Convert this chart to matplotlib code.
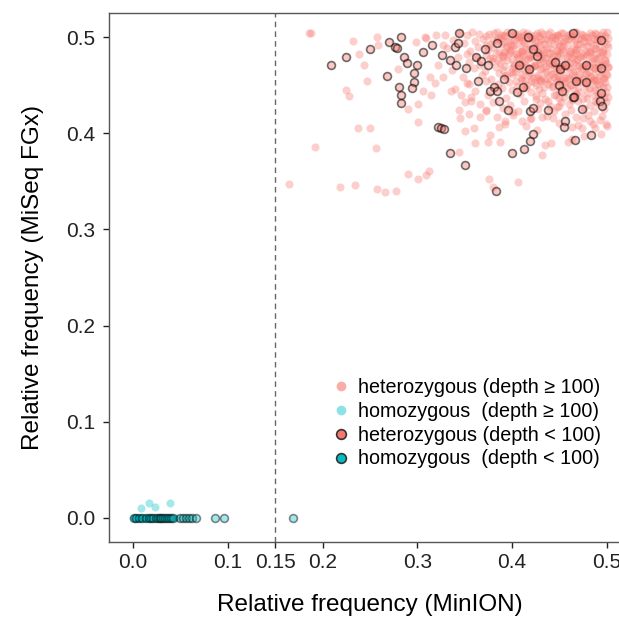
import numpy as np
import matplotlib
matplotlib.use('Agg')
import matplotlib.pyplot as plt
from matplotlib.lines import Line2D

plt.rcParams['font.family'] = ['Liberation Sans', 'DejaVu Sans']

# heterozygous, depth >= 100 (light points), scattered part
het_hi_x = [0.186, 0.188, 0.232, 0.257, 0.259, 0.238, 0.244, 0.247, 0.225, 0.228,
            0.237, 0.250, 0.192, 0.256, 0.165, 0.218, 0.234, 0.258, 0.266, 0.278,
            0.290, 0.301, 0.309, 0.312, 0.376, 0.380, 0.406, 0.432, 0.435, 0.441,
            0.459, 0.463, 0.476, 0.494, 0.488, 0.474, 0.463, 0.499, 0.493, 0.375,
            0.377, 0.387, 0.361, 0.360, 0.350, 0.344, 0.301, 0.290, 0.301, 0.306,
            0.314, 0.319, 0.313, 0.280, 0.299, 0.308, 0.320, 0.329, 0.327, 0.322,
            0.327, 0.336, 0.346, 0.344, 0.350, 0.357, 0.355, 0.345, 0.355, 0.366,
            0.373, 0.386, 0.393, 0.401, 0.411, 0.426, 0.443, 0.444, 0.450, 0.432,
            0.419, 0.482, 0.475, 0.309]
het_hi_y = [0.504, 0.504, 0.496, 0.500, 0.492, 0.483, 0.471, 0.455, 0.445, 0.439,
            0.406, 0.406, 0.386, 0.385, 0.347, 0.344, 0.346, 0.342, 0.339, 0.340,
            0.358, 0.353, 0.357, 0.361, 0.353, 0.344, 0.349, 0.377, 0.388, 0.390,
            0.391, 0.394, 0.397, 0.399, 0.406, 0.406, 0.407, 0.410, 0.414, 0.391,
            0.398, 0.391, 0.390, 0.406, 0.402, 0.381, 0.412, 0.425, 0.431, 0.444,
            0.440, 0.452, 0.459, 0.467, 0.495, 0.500, 0.502, 0.502, 0.492, 0.471,
            0.459, 0.444, 0.440, 0.424, 0.433, 0.434, 0.451, 0.416, 0.420, 0.417,
            0.423, 0.407, 0.413, 0.422, 0.413, 0.403, 0.416, 0.423, 0.428, 0.417,
            0.415, 0.413, 0.416, 0.499]

# heterozygous, depth >= 100, dense block (read row by row)
het_dense_x = [0.345, 0.352, 0.358, 0.365, 0.372, 0.381, 0.388, 0.395, 0.403, 0.409, 0.416, 0.424,
               0.431, 0.438, 0.445, 0.452, 0.459, 0.466, 0.473, 0.480, 0.487, 0.494, 0.500,
               0.338, 0.349, 0.361, 0.369, 0.377, 0.384, 0.392, 0.399, 0.407, 0.413, 0.420,
               0.427, 0.434, 0.441, 0.448, 0.455, 0.462, 0.469, 0.476, 0.483, 0.490, 0.497,
               0.331, 0.356, 0.364, 0.375, 0.386, 0.394, 0.401, 0.410, 0.418, 0.425, 0.433,
               0.440, 0.447, 0.454, 0.461, 0.468, 0.475, 0.482, 0.489, 0.496, 0.501,
               0.343, 0.352, 0.362, 0.373, 0.380, 0.389, 0.397, 0.405, 0.412, 0.419, 0.428,
               0.436, 0.443, 0.451, 0.458, 0.465, 0.472, 0.479, 0.486, 0.493, 0.500,
               0.355, 0.366, 0.379, 0.387, 0.395, 0.402, 0.410, 0.417, 0.424, 0.432,
               0.439, 0.446, 0.453, 0.461, 0.469, 0.476, 0.484, 0.491, 0.498,
               0.337, 0.360, 0.371, 0.383, 0.390, 0.399, 0.406, 0.414, 0.421, 0.430,
               0.437, 0.444, 0.452, 0.459, 0.466, 0.474, 0.481, 0.488, 0.495, 0.501,
               0.348, 0.368, 0.378, 0.393, 0.401, 0.409, 0.418, 0.426, 0.434,
               0.441, 0.449, 0.456, 0.463, 0.471, 0.478, 0.486, 0.493, 0.500,
               0.352, 0.372, 0.385, 0.397, 0.404, 0.416, 0.423, 0.431, 0.438,
               0.447, 0.455, 0.462, 0.469, 0.477, 0.484, 0.491, 0.498,
               0.340, 0.361, 0.389, 0.400, 0.412, 0.420, 0.428, 0.442, 0.450,
               0.458, 0.465, 0.473, 0.481, 0.488, 0.496,
               0.357, 0.375, 0.394, 0.408, 0.425, 0.435, 0.446, 0.455, 0.467,
               0.479, 0.487, 0.494, 0.501,
               0.366, 0.380, 0.398, 0.413, 0.430, 0.440, 0.452, 0.460, 0.470,
               0.482, 0.490, 0.499,
               0.372, 0.390, 0.406, 0.427, 0.447, 0.462, 0.476, 0.486, 0.497,
               0.384, 0.401, 0.420, 0.437, 0.456, 0.468, 0.480, 0.495,
               0.393, 0.415, 0.450, 0.470, 0.485, 0.500,
               # second pass over the most crowded corner
               0.385, 0.392, 0.399, 0.406, 0.413, 0.421, 0.428, 0.435, 0.442, 0.449,
               0.456, 0.463, 0.470, 0.477, 0.484, 0.491, 0.498,
               0.391, 0.398, 0.404, 0.411, 0.418, 0.426, 0.433, 0.440, 0.447, 0.453,
               0.460, 0.467, 0.474, 0.481, 0.488, 0.495,
               0.402, 0.409, 0.416, 0.423, 0.429, 0.436, 0.443, 0.450, 0.457, 0.464,
               0.471, 0.478, 0.485, 0.492, 0.499,
               0.414, 0.422, 0.429, 0.437, 0.444, 0.452, 0.460, 0.467, 0.475, 0.483,
               0.490, 0.497,
               # third pass
               0.376, 0.384, 0.391, 0.398, 0.405, 0.412, 0.419, 0.426, 0.433, 0.440,
               0.447, 0.454, 0.461, 0.468, 0.475, 0.482, 0.489, 0.496,
               0.372, 0.380, 0.388, 0.395, 0.402, 0.409, 0.416, 0.423, 0.430, 0.437,
               0.444, 0.451, 0.458, 0.465, 0.472, 0.479, 0.486, 0.493, 0.500,
               0.377, 0.385, 0.392, 0.400, 0.407, 0.414, 0.421, 0.428, 0.435, 0.442,
               0.449, 0.456, 0.463, 0.470, 0.477, 0.484, 0.491, 0.498,
               0.386, 0.395, 0.403, 0.411, 0.419, 0.427, 0.435, 0.443, 0.450, 0.457,
               0.464, 0.471, 0.478, 0.485, 0.492, 0.499,
               0.405, 0.415, 0.425, 0.434, 0.443, 0.452, 0.461, 0.470, 0.478, 0.486,
               0.493, 0.500,
               0.425, 0.438, 0.450, 0.463, 0.475, 0.487, 0.497,
               # fourth pass
               0.380, 0.388, 0.396, 0.403, 0.410, 0.417, 0.424, 0.431, 0.438, 0.445,
               0.452, 0.459, 0.466, 0.473, 0.480, 0.487, 0.494, 0.501,
               0.383, 0.390, 0.398, 0.405, 0.412, 0.419, 0.426, 0.433, 0.440, 0.447,
               0.454, 0.461, 0.468, 0.475, 0.482, 0.489, 0.496,
               0.392, 0.400, 0.408, 0.416, 0.424, 0.432, 0.439, 0.446, 0.453, 0.460,
               0.467, 0.474, 0.481, 0.488, 0.495, 0.501,
               0.410, 0.420, 0.430, 0.440, 0.448, 0.456, 0.464, 0.472, 0.480, 0.488,
               0.496,
               0.432, 0.444, 0.456, 0.468, 0.480, 0.491, 0.499]
het_dense_y = [0.504, 0.502, 0.505, 0.503, 0.501, 0.504, 0.502, 0.505, 0.503, 0.500, 0.504, 0.502,
               0.505, 0.503, 0.501, 0.504, 0.502, 0.505, 0.503, 0.500, 0.504, 0.502, 0.505,
               0.497, 0.494, 0.496, 0.498, 0.493, 0.497, 0.495, 0.492, 0.497, 0.494, 0.498,
               0.495, 0.493, 0.497, 0.494, 0.496, 0.498, 0.493, 0.496, 0.494, 0.497, 0.495,
               0.489, 0.486, 0.490, 0.487, 0.485, 0.489, 0.491, 0.486, 0.488, 0.490, 0.485,
               0.489, 0.487, 0.491, 0.486, 0.488, 0.490, 0.485, 0.489, 0.487, 0.490,
               0.480, 0.483, 0.479, 0.482, 0.478, 0.481, 0.484, 0.479, 0.482, 0.480, 0.483,
               0.478, 0.481, 0.484, 0.479, 0.482, 0.480, 0.483, 0.478, 0.481, 0.483,
               0.474, 0.471, 0.475, 0.473, 0.476, 0.472, 0.474, 0.477, 0.471, 0.475,
               0.473, 0.476, 0.472, 0.474, 0.477, 0.471, 0.475, 0.473, 0.476,
               0.466, 0.468, 0.465, 0.469, 0.466, 0.464, 0.468, 0.465, 0.469, 0.467,
               0.464, 0.468, 0.466, 0.469, 0.465, 0.467, 0.464, 0.468, 0.466, 0.469,
               0.459, 0.461, 0.457, 0.460, 0.462, 0.458, 0.461, 0.459, 0.457,
               0.462, 0.460, 0.458, 0.461, 0.459, 0.462, 0.457, 0.460, 0.461,
               0.452, 0.454, 0.451, 0.453, 0.455, 0.450, 0.453, 0.455, 0.451,
               0.454, 0.452, 0.450, 0.454, 0.452, 0.455, 0.451, 0.453,
               0.446, 0.444, 0.447, 0.445, 0.448, 0.443, 0.446, 0.448, 0.444,
               0.447, 0.445, 0.443, 0.447, 0.445, 0.448,
               0.438, 0.440, 0.437, 0.441, 0.439, 0.436, 0.440, 0.438, 0.441,
               0.437, 0.439, 0.441, 0.438,
               0.431, 0.433, 0.430, 0.434, 0.432, 0.429, 0.433, 0.431, 0.434,
               0.430, 0.432, 0.433,
               0.424, 0.426, 0.423, 0.425, 0.427, 0.424, 0.426, 0.423, 0.425,
               0.417, 0.419, 0.416, 0.418, 0.420, 0.417, 0.419, 0.418,
               0.410, 0.408, 0.411, 0.409, 0.410, 0.408,
               0.499, 0.501, 0.498, 0.500, 0.502, 0.499, 0.501, 0.498, 0.500, 0.502,
               0.499, 0.501, 0.498, 0.500, 0.502, 0.499, 0.501,
               0.485, 0.487, 0.484, 0.486, 0.488, 0.485, 0.487, 0.484, 0.486, 0.488,
               0.485, 0.487, 0.484, 0.486, 0.488, 0.485,
               0.470, 0.472, 0.469, 0.471, 0.473, 0.470, 0.472, 0.469, 0.471, 0.473,
               0.470, 0.472, 0.469, 0.471, 0.473,
               0.456, 0.458, 0.455, 0.457, 0.459, 0.456, 0.458, 0.455, 0.457, 0.459,
               0.456, 0.458,
               0.503, 0.505, 0.502, 0.504, 0.503, 0.505, 0.502, 0.504, 0.503, 0.505,
               0.502, 0.504, 0.503, 0.505, 0.502, 0.504, 0.503, 0.505,
               0.492, 0.490, 0.493, 0.491, 0.492, 0.490, 0.493, 0.491, 0.492, 0.490,
               0.493, 0.491, 0.492, 0.490, 0.493, 0.491, 0.492, 0.490, 0.493,
               0.478, 0.476, 0.479, 0.477, 0.478, 0.476, 0.479, 0.477, 0.478, 0.476,
               0.479, 0.477, 0.478, 0.476, 0.479, 0.477, 0.478, 0.476,
               0.463, 0.461, 0.464, 0.462, 0.463, 0.461, 0.464, 0.462, 0.463, 0.461,
               0.464, 0.462, 0.463, 0.461, 0.464, 0.462,
               0.449, 0.447, 0.450, 0.448, 0.449, 0.447, 0.450, 0.448, 0.449, 0.447,
               0.450, 0.448,
               0.436, 0.434, 0.437, 0.435, 0.436, 0.434, 0.437,
               0.497, 0.499, 0.496, 0.498, 0.497, 0.499, 0.496, 0.498, 0.497, 0.499,
               0.496, 0.498, 0.497, 0.499, 0.496, 0.498, 0.497, 0.499,
               0.484, 0.482, 0.485, 0.483, 0.484, 0.482, 0.485, 0.483, 0.484, 0.482,
               0.485, 0.483, 0.484, 0.482, 0.485, 0.483, 0.484,
               0.470, 0.468, 0.471, 0.469, 0.470, 0.468, 0.471, 0.469, 0.470, 0.468,
               0.471, 0.469, 0.470, 0.468, 0.471, 0.469,
               0.456, 0.454, 0.457, 0.455, 0.456, 0.454, 0.457, 0.455, 0.456, 0.454,
               0.457,
               0.442, 0.440, 0.443, 0.441, 0.442, 0.440, 0.443]

# heterozygous, depth < 100 (outlined points)
het_lo_x = [0.209, 0.225, 0.250, 0.270, 0.276, 0.279, 0.283, 0.286, 0.289, 0.300,
            0.296, 0.268, 0.296, 0.294, 0.281, 0.283, 0.283, 0.306, 0.316, 0.326,
            0.334, 0.341, 0.340, 0.343, 0.344, 0.351, 0.362, 0.367, 0.371, 0.375,
            0.384, 0.400, 0.417, 0.422, 0.426, 0.407, 0.418, 0.364, 0.381, 0.377,
            0.384, 0.392, 0.386, 0.405, 0.412, 0.396, 0.419, 0.422, 0.438, 0.445,
            0.451, 0.456, 0.464, 0.468, 0.478, 0.494, 0.494, 0.450, 0.453, 0.464,
            0.465, 0.478, 0.474, 0.494, 0.493, 0.495, 0.456, 0.455, 0.483, 0.466,
            0.422, 0.419, 0.413, 0.400, 0.322, 0.325, 0.328, 0.334, 0.350, 0.383]
het_lo_y = [0.471, 0.479, 0.488, 0.495, 0.490, 0.489, 0.500, 0.479, 0.473, 0.471,
            0.463, 0.460, 0.453, 0.447, 0.448, 0.440, 0.432, 0.485, 0.492, 0.482,
            0.476, 0.471, 0.490, 0.494, 0.504, 0.468, 0.479, 0.475, 0.488, 0.471,
            0.494, 0.504, 0.500, 0.488, 0.481, 0.471, 0.467, 0.455, 0.448, 0.444,
            0.444, 0.457, 0.434, 0.443, 0.448, 0.424, 0.423, 0.426, 0.424, 0.474,
            0.467, 0.471, 0.504, 0.455, 0.471, 0.497, 0.468, 0.450, 0.444, 0.438,
            0.438, 0.453, 0.425, 0.442, 0.434, 0.428, 0.413, 0.407, 0.398, 0.393,
            0.399, 0.392, 0.384, 0.380, 0.407, 0.406, 0.405, 0.380, 0.367, 0.340]

# homozygous, depth >= 100
hom_hi_x = [0.000, 0.001, 0.002, 0.003, 0.004, 0.005, 0.006, 0.007, 0.008, 0.009,
            0.010, 0.011, 0.012, 0.013, 0.014, 0.015, 0.016, 0.018, 0.020, 0.022,
            0.025, 0.028, 0.031, 0.034, 0.037, 0.040, 0.043, 0.046,
            0.008, 0.017, 0.023, 0.039]
hom_hi_y = [0.0] * 28 + [0.010, 0.015, 0.011, 0.015]

# homozygous, depth < 100
hom_lo_x = [0.001, 0.003, 0.006, 0.010, 0.014, 0.017, 0.019, 0.021, 0.024, 0.026,
            0.028, 0.030, 0.032, 0.034, 0.036, 0.038, 0.040, 0.042, 0.050, 0.053,
            0.056, 0.059, 0.062, 0.066, 0.086, 0.096, 0.169]
hom_lo_y = [0.0] * len(hom_lo_x)

red = '#F8766D'
cyan = '#00BFC4'

fig = plt.figure(figsize=(6.19, 6.17), dpi=100)
ax = fig.add_axes([0.1766, 0.122, 0.842, 0.8565])

ax.axvline(0.15, color='#666666', ls=(0, (4, 3)), lw=1.0, zorder=1)

ax.scatter(het_hi_x, het_hi_y, s=34, color=red, alpha=0.35, linewidths=0, zorder=2)
ax.scatter(het_dense_x, het_dense_y, s=34, color=red, alpha=0.35, linewidths=0, zorder=2)
ax.scatter(hom_hi_x, hom_hi_y, s=34, color=cyan, alpha=0.35, linewidths=0, zorder=2)
ax.scatter(het_lo_x, het_lo_y, s=32, facecolor=(0.973, 0.463, 0.427, 0.4),
           edgecolor=(0, 0, 0, 0.55), linewidths=1.2, zorder=3)
ax.scatter(hom_lo_x, hom_lo_y, s=32, facecolor=(0.0, 0.75, 0.77, 0.35),
           edgecolor=(0, 0, 0, 0.45), linewidths=1.2, zorder=3)

ax.set_xlim(-0.025, 0.525)
ax.set_ylim(-0.025, 0.525)
ax.set_xticks([0, 0.1, 0.15, 0.2, 0.3, 0.4, 0.5])
ax.set_xticklabels(['0.0', '0.1', '0.15', '0.2', '0.3', '0.4', '0.5'])
ax.set_yticks([0, 0.1, 0.2, 0.3, 0.4, 0.5])
ax.set_yticklabels(['0.0', '0.1', '0.2', '0.3', '0.4', '0.5'])
ax.tick_params(axis='both', labelsize=15, colors='#222222', length=4, width=1)
ax.tick_params(axis='x', pad=4)
ax.tick_params(axis='y', pad=6)
for sp in ax.spines.values():
    sp.set_color('#555555')
    sp.set_linewidth(1.0)

ax.set_xlabel('Relative frequency (MinION)', fontsize=17.5, labelpad=16)
ax.set_ylabel('Relative frequency (MiSeq FGx)', fontsize=17.5, labelpad=16)

handles = [
    Line2D([], [], marker='o', ls='none', markersize=7, markerfacecolor=red,
           markeredgewidth=0, alpha=0.6),
    Line2D([], [], marker='o', ls='none', markersize=7, markerfacecolor=cyan,
           markeredgewidth=0, alpha=0.45),
    Line2D([], [], marker='o', ls='none', markersize=7, markerfacecolor=red,
           markeredgecolor='#333333', markeredgewidth=1.2),
    Line2D([], [], marker='o', ls='none', markersize=7, markerfacecolor=cyan,
           markeredgecolor='#333333', markeredgewidth=1.2),
]
labels = ['heterozygous (depth \u2265 100)', 'homozygous  (depth \u2265 100)',
          'heterozygous (depth < 100)', 'homozygous  (depth < 100)']
fig.legend(handles, labels, loc='upper left', bbox_to_anchor=(0.5375, 0.387),
           frameon=False, fontsize=14.2, handlelength=0.8, handletextpad=0.5,
           borderpad=0, borderaxespad=0, labelspacing=0.24)

fig.savefig('out.png', dpi=100)
